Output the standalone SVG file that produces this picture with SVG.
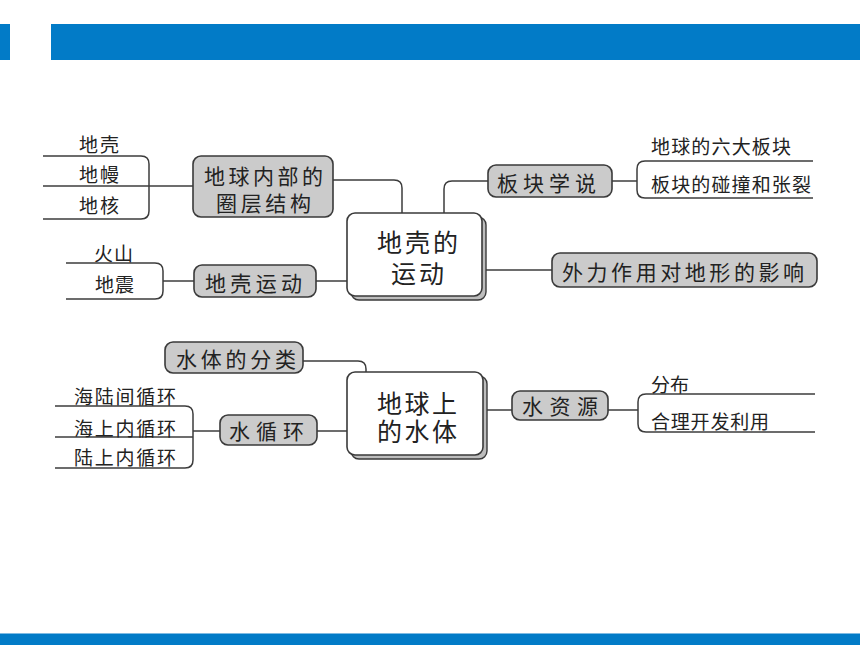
<svg xmlns="http://www.w3.org/2000/svg" width="860" height="645" viewBox="0 0 860 645">
<style>
text{font-family:"Noto Sans CJK SC","Noto Sans",sans-serif;fill:#222;dominant-baseline:central}
.box{fill:#cbcbcb;stroke:#3a3a3a;stroke-width:1.6}
.main{fill:#fff;stroke:#3a3a3a;stroke-width:1.6}
.shadow{fill:#bdbdbd;stroke:#3a3a3a;stroke-width:1.4}
.bt{font-size:21px}
.ct{font-size:25px}
.lt{font-size:19px}
.ln{fill:none;stroke:#3c3c3c;stroke-width:1.5}
.bar{fill:#027BC7}
</style>
<rect class="bar" x="0" y="24" width="10" height="36"/>
<rect class="bar" x="51" y="24" width="809" height="36"/>
<rect x="0" y="633" width="860" height="1" fill="#7fbbe3"/>
<rect class="bar" x="0" y="634" width="860" height="11"/>
<g id="connectors">
<path class="ln" d="M43,156 H141 Q149,156 149,164 V211 Q149,219 141,219 H43"/>
<path class="ln" d="M43,186 H193"/>
<path class="ln" d="M333,180 H394 Q402,180 402,188 V213"/>
<path class="ln" d="M66,263 H155 Q163,263 163,271 V291 Q163,299 155,299 H66"/>
<path class="ln" d="M163,281 H194"/>
<path class="ln" d="M316,281 H347"/>
<path class="ln" d="M444,213 V189 Q444,181 452,181 H488"/>
<path class="ln" d="M612,181 H637"/>
<path class="ln" d="M813,161 H645 Q637,161 637,169 V190 Q637,198 645,198 H813"/>
<path class="ln" d="M482,270 H552"/>
<path class="ln" d="M303,361 H358 Q366,361 366,369 V372"/>
<path class="ln" d="M317,431 H347"/>
<path class="ln" d="M55,406 H185 Q193,406 193,414 V460 Q193,468 185,468 H55"/>
<path class="ln" d="M55,437 H193"/>
<path class="ln" d="M193,431 H220"/>
<path class="ln" d="M483,410 H512"/>
<path class="ln" d="M608,410 H638"/>
<path class="ln" d="M815,394 H646 Q638,394 638,402 V424 Q638,432 646,432 H815"/>
</g>
<g id="leaves">
<text class="lt" x="79" y="143" textLength="40" lengthAdjust="spacing">地壳</text>
<text class="lt" x="79" y="173" textLength="40" lengthAdjust="spacing">地幔</text>
<text class="lt" x="79" y="204" textLength="40" lengthAdjust="spacing">地核</text>
<text class="lt" x="94" y="252" textLength="39" lengthAdjust="spacing">火山</text>
<text class="lt" x="95" y="283" textLength="39" lengthAdjust="spacing">地震</text>
<text class="lt" x="651" y="145" textLength="140" lengthAdjust="spacing">地球的六大板块</text>
<text class="lt" x="651" y="183" textLength="160" lengthAdjust="spacing">板块的碰撞和张裂</text>
<text class="lt" x="74" y="395" textLength="102" lengthAdjust="spacing">海陆间循环</text>
<text class="lt" x="74" y="427" textLength="102" lengthAdjust="spacing">海上内循环</text>
<text class="lt" x="74" y="456" textLength="102" lengthAdjust="spacing">陆上内循环</text>
<text class="lt" x="651" y="383" textLength="38" lengthAdjust="spacing">分布</text>
<text class="lt" x="651" y="420" textLength="118" lengthAdjust="spacing">合理开发利用</text>
</g>
<g id="node-crust-motion">
<rect class="shadow" x="351" y="217" width="135" height="83" rx="8"/>
<rect class="main" x="347" y="213" width="135" height="83" rx="8"/>
<text class="ct" x="377" y="241" textLength="81" lengthAdjust="spacing">地壳的</text>
<text class="ct" x="391" y="272" textLength="53" lengthAdjust="spacing">运动</text>
</g>
<g id="node-interior">
<rect class="box" x="193" y="156" width="140" height="61" rx="8"/>
<text class="bt" x="204" y="175" textLength="119" lengthAdjust="spacing">地球内部的</text>
<text class="bt" x="216" y="202" textLength="95" lengthAdjust="spacing">圈层结构</text>
</g>
<g id="node-crust-movement">
<rect class="box" x="194" y="265" width="122" height="32" rx="8"/>
<text class="bt" x="205" y="282" textLength="97" lengthAdjust="spacing">地壳运动</text>
</g>
<g id="node-plate">
<rect class="box" x="488" y="165" width="124" height="32" rx="8"/>
<text class="bt" x="497" y="182" textLength="99" lengthAdjust="spacing">板块学说</text>
</g>
<g id="node-external">
<rect class="box" x="552" y="253" width="265" height="34" rx="8"/>
<text class="bt" x="562" y="271" textLength="242" lengthAdjust="spacing">外力作用对地形的影响</text>
</g>
<g id="node-water">
<rect class="shadow" x="351" y="376" width="136" height="83" rx="8"/>
<rect class="main" x="347" y="372" width="136" height="83" rx="8"/>
<text class="ct" x="377" y="402" textLength="80" lengthAdjust="spacing">地球上</text>
<text class="ct" x="377" y="430" textLength="80" lengthAdjust="spacing">的水体</text>
</g>
<g id="node-water-types">
<rect class="box" x="165" y="342" width="138" height="31" rx="8"/>
<text class="bt" x="176" y="358" textLength="120" lengthAdjust="spacing">水体的分类</text>
</g>
<g id="node-water-cycle">
<rect class="box" x="220" y="415" width="97" height="30" rx="8"/>
<text class="bt" x="229" y="430" textLength="75" lengthAdjust="spacing">水循环</text>
</g>
<g id="node-water-resources">
<rect class="box" x="512" y="391" width="96" height="29" rx="8"/>
<text class="bt" x="522" y="405" textLength="76" lengthAdjust="spacing">水资源</text>
</g>
</svg>
